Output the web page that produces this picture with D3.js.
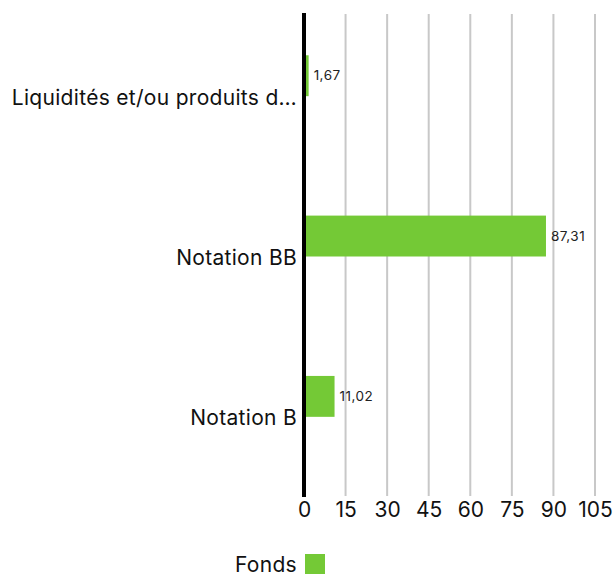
<!DOCTYPE html>
<html>
<head>
<meta charset="utf-8">
<script src="https://cdn.jsdelivr.net/npm/d3@7"></script>
<style>
  html, body { margin: 0; padding: 0; background: #fff; }
  svg { display: block; font-family: Inter, "Noto Sans", sans-serif; }
</style>
</head>
<body>
<svg id="chart" width="614" height="574"></svg>
<script>
// data
var categories = ["Liquidités et/ou produits d…", "Notation BB", "Notation B"];
var fonds = [1.67, 87.31, 11.02];
var seriesNames = ["Fonds"];
var tickValues = [0, 15, 30, 45, 60, 75, 90, 105];
var GREEN = "#74c936";

var svg = d3.select("#chart");
var plotLeft = 304, plotRight = 595, plotTop = 16, plotBottom = 497;

var x = d3.scaleLinear().domain([0, 105]).range([plotLeft, plotRight]);
var y = d3.scaleBand().domain(categories).range([plotTop, plotBottom]);
// the bar sits in the upper slot of each group (second slot empty)
var ySub = d3.scaleBand().domain(["Fonds", "_"]).range([0, y.bandwidth()]).paddingInner(0).paddingOuter(0.96);

function fmt(v){ return d3.format(".2f")(v).replace(".", ","); }

// gridlines
svg.append("g").selectAll("line").data(tickValues.slice(1)).enter().append("line")
  .attr("x1", function(d){ return x(d); }).attr("x2", function(d){ return x(d); })
  .attr("y1", 14).attr("y2", 496)
  .attr("stroke", "#c8c8c8").attr("stroke-width", 2);

// bars
var barG = svg.append("g");
barG.selectAll("rect").data(fonds).enter().append("rect")
  .attr("x", x(0))
  .attr("y", function(d, i){ return y(categories[i]) + ySub("Fonds"); })
  .attr("width", function(d){ return x(d) - x(0); })
  .attr("height", ySub.bandwidth())
  .attr("fill", GREEN);

barG.selectAll("text").data(fonds).enter().append("text")
  .attr("x", function(d){ return x(d) + 5; })
  .attr("y", function(d, i){ return y(categories[i]) + ySub("Fonds") + ySub.bandwidth() / 2; })
  .attr("dy", "0.35em")
  .attr("font-size", 13.5).attr("letter-spacing", 0.5).attr("fill", "#222")
  .text(function(d){ return fmt(d); });

// zero axis line
svg.append("line").attr("x1", x(0)).attr("x2", x(0)).attr("y1", 13).attr("y2", 497)
  .attr("stroke", "#000").attr("stroke-width", 4);

// category labels
svg.append("g").selectAll("text").data(categories).enter().append("text")
  .attr("x", 297)
  .attr("y", function(d){ return y(d) + y.bandwidth() / 2 + 1; })
  .attr("dy", "0.35em")
  .attr("text-anchor", "end")
  .attr("font-size", 21).attr("letter-spacing", 0.3).attr("fill", "#111")
  .text(function(d){ return d; });

// x axis tick labels
var xAxis = d3.axisBottom(x).tickValues(tickValues).tickSize(0).tickPadding(0)
  .tickFormat(function(d){ return String(d); });
var gx = svg.append("g").attr("transform", "translate(0," + 502 + ")").call(xAxis);
gx.select(".domain").remove();
gx.selectAll("text").attr("font-size", 21).attr("fill", "#111")
  .attr("font-family", "Inter, 'Noto Sans', sans-serif");

// legend
var lg = svg.append("g");
lg.selectAll("rect").data(seriesNames).enter().append("rect")
  .attr("x", 305).attr("y", 554).attr("width", 20).attr("height", 20).attr("fill", GREEN);
lg.selectAll("text").data(seriesNames).enter().append("text")
  .attr("x", 297).attr("y", 565).attr("dy", "0.35em").attr("text-anchor", "end")
  .attr("font-size", 21).attr("letter-spacing", 0.3).attr("fill", "#111")
  .text(function(d){ return d; });
</script>
</body>
</html>
